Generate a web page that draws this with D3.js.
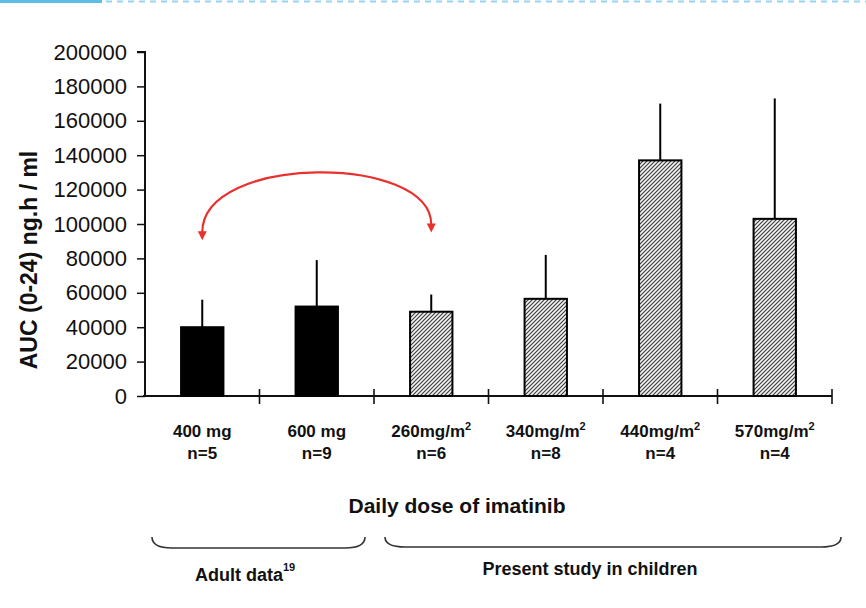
<!DOCTYPE html>
<html>
<head>
<meta charset="utf-8">
<script src="https://cdn.jsdelivr.net/npm/d3@7"></script>
<style>
  html, body { margin: 0; padding: 0; background: #fff; }
  svg { display: block; }
  text { font-family: "Liberation Sans", Arial, sans-serif; fill: #111; }
</style>
</head>
<body>
<svg id="chart" width="866" height="608"></svg>
<script>
// ---- data ----
const doses = ["400 mg", "600 mg", "260mg/m", "340mg/m", "440mg/m", "570mg/m"];
const doseSup = ["", "", "2", "2", "2", "2"];
const nLabels = ["n=5", "n=9", "n=6", "n=8", "n=4", "n=4"];
const groups = ["adult", "adult", "child", "child", "child", "child"];
const meanAUC = [40000, 52000, 49000, 56500, 137000, 103000];
const upperAUC = [56000, 79000, 59000, 82000, 170000, 173000];
const yTicks = [0, 20000, 40000, 60000, 80000, 100000, 120000, 140000, 160000, 180000, 200000];
const yTitle = "AUC (0-24) ng.h / ml";
const xTitle = "Daily dose of imatinib";
const groupLabels = ["Adult data", "Present study in children"];
const groupSup = ["19", ""];
// annotation arrow (in data units): from bar 0 to bar 2
const arrowFrom = 0, arrowTo = 2;
const arrowLeftTip = 90500, arrowRightTip = 95000, arrowPeak = 130000;

// ---- layout ----
const svg = d3.select("#chart");
const x0 = 145, x1 = 832, yBase = 396, yTop = 52;

const x = d3.scaleBand().domain(d3.range(doses.length)).range([x0, x1]).paddingInner(0).paddingOuter(0);
const y = d3.scaleLinear().domain([0, 200000]).range([yBase, yTop]);
const barW = x.bandwidth() * 0.37;

// top decorative line
svg.append("line").attr("x1", 0).attr("x2", 102).attr("y1", 1.5).attr("y2", 1.5)
  .attr("stroke", "#5bbde8").attr("stroke-width", 3);
svg.append("line").attr("x1", 106).attr("x2", 866).attr("y1", 1.5).attr("y2", 1.5)
  .attr("stroke", "#93d4f0").attr("stroke-width", 2).attr("stroke-dasharray", "6,5");

// hatch pattern
const defs = svg.append("defs");
const pat = defs.append("pattern").attr("id", "hatch").attr("patternUnits", "userSpaceOnUse")
  .attr("width", 4).attr("height", 4);
pat.append("rect").attr("width", 4).attr("height", 4).attr("fill", "#f2f2f2");
pat.append("path").attr("d", "M-1,1 l2,-2 M0,4 l4,-4 M3,5 l2,-2")
  .attr("stroke", "#3a3a3a").attr("stroke-width", 1.1);

// y axis
const yAxis = d3.axisLeft(y).tickValues(yTicks).tickSize(8).tickPadding(10).tickFormat(d3.format("d"));
const gy = svg.append("g").attr("transform", `translate(${x0},0)`).call(yAxis);
gy.select(".domain").attr("stroke", "#111").attr("stroke-width", 2).attr("d", `M-8,${yTop}H0V${yBase}`);
gy.selectAll(".tick line").attr("stroke", "#111").attr("stroke-width", 1.5);
gy.selectAll(".tick text").attr("font-size", 22).attr("fill", "#1a1a1a")
  .attr("font-family", "'Liberation Sans', Arial, sans-serif");

// x axis (ticks at band boundaries, crossing the axis)
const boundaries = d3.range(doses.length + 1).map(i => x0 + i * x.bandwidth());
svg.append("line").attr("x1", x0 - 2).attr("x2", x1).attr("y1", yBase).attr("y2", yBase)
  .attr("stroke", "#111").attr("stroke-width", 2);
svg.selectAll(".xb").data(boundaries.slice(1)).enter().append("line")
  .attr("x1", d => d).attr("x2", d => d).attr("y1", yBase - 7).attr("y2", yBase + 8)
  .attr("stroke", "#111").attr("stroke-width", 1.6);

// bars
const cx = i => x(i) + x.bandwidth() / 2;
svg.selectAll(".bar").data(meanAUC).enter().append("rect")
  .attr("x", (d, i) => cx(i) - barW / 2)
  .attr("y", d => y(d))
  .attr("width", barW)
  .attr("height", d => y(0) - y(d))
  .attr("fill", (d, i) => groups[i] === "adult" ? "#000" : "url(#hatch)")
  .attr("stroke", "#000").attr("stroke-width", 2);

// error bars (upper only)
svg.selectAll(".err").data(upperAUC).enter().append("line")
  .attr("x1", (d, i) => cx(i)).attr("x2", (d, i) => cx(i))
  .attr("y1", (d, i) => y(meanAUC[i])).attr("y2", d => y(d))
  .attr("stroke", "#000").attr("stroke-width", 2);

// category labels
const lab = svg.selectAll(".lab").data(doses).enter().append("text")
  .attr("x", (d, i) => cx(i)).attr("y", 437)
  .attr("text-anchor", "middle").attr("font-weight", "bold").attr("font-size", 17);
lab.append("tspan").text(d => d);
lab.append("tspan").attr("dy", -7).attr("font-size", 11).text((d, i) => doseSup[i]);
svg.selectAll(".nlab").data(nLabels).enter().append("text")
  .attr("x", (d, i) => cx(i)).attr("y", 459)
  .attr("text-anchor", "middle").attr("font-weight", "bold").attr("font-size", 17)
  .text(d => d);

// axis titles
svg.append("text").attr("x", 457).attr("y", 513).attr("text-anchor", "middle")
  .attr("font-weight", "bold").attr("font-size", 21).text(xTitle);
svg.append("text").attr("transform", "translate(37,260) rotate(-90)").attr("text-anchor", "middle")
  .attr("font-weight", "bold").attr("font-size", 23).text(yTitle);

// group braces
function brace(xa, xb, yFlat, yEnd) {
  const r = 10;
  return `M${xa},${yEnd} Q${xa},${yFlat} ${xa + r * 2},${yFlat} L${xb - r * 2},${yFlat} Q${xb},${yFlat} ${xb},${yEnd}`;
}
const braceSpans = [[152, 365, 548, 537], [385, 841, 547, 537]];
svg.selectAll(".brace").data(braceSpans).enter().append("path")
  .attr("d", d => brace(d[0], d[1], d[2], d[3]))
  .attr("fill", "none").attr("stroke", "#333").attr("stroke-width", 1.6);

const gl = svg.selectAll(".glab").data(groupLabels).enter().append("text")
  .attr("x", (d, i) => i === 0 ? 195 : 590).attr("y", (d, i) => i === 0 ? 581 : 575)
  .attr("text-anchor", (d, i) => i === 0 ? "start" : "middle")
  .attr("font-weight", "bold").attr("font-size", 18);
gl.append("tspan").text(d => d);
gl.append("tspan").attr("dy", -10).attr("font-size", 11).text((d, i) => groupSup[i]);

// red curved arrow annotation
const ax0 = cx(arrowFrom), ax1 = cx(arrowTo);
const yl = y(arrowLeftTip), yr = y(arrowRightTip), yp = y(arrowPeak);
const ctrlY = (yp - 0.25 * ((yl + yr) / 2 - 8)) / 0.75;
svg.append("path")
  .attr("d", `M${ax0},${yl - 8} C${ax0},${ctrlY} ${ax1},${ctrlY} ${ax1},${yr - 8}`)
  .attr("fill", "none").attr("stroke", "#e8312f").attr("stroke-width", 2.2);
[[ax0, yl], [ax1, yr]].forEach(([tx, ty]) => {
  svg.append("path").attr("d", `M${tx - 4.5},${ty - 9} L${tx + 4.5},${ty - 9} L${tx},${ty} Z`)
    .attr("fill", "#e8312f");
});
</script>
</body>
</html>
